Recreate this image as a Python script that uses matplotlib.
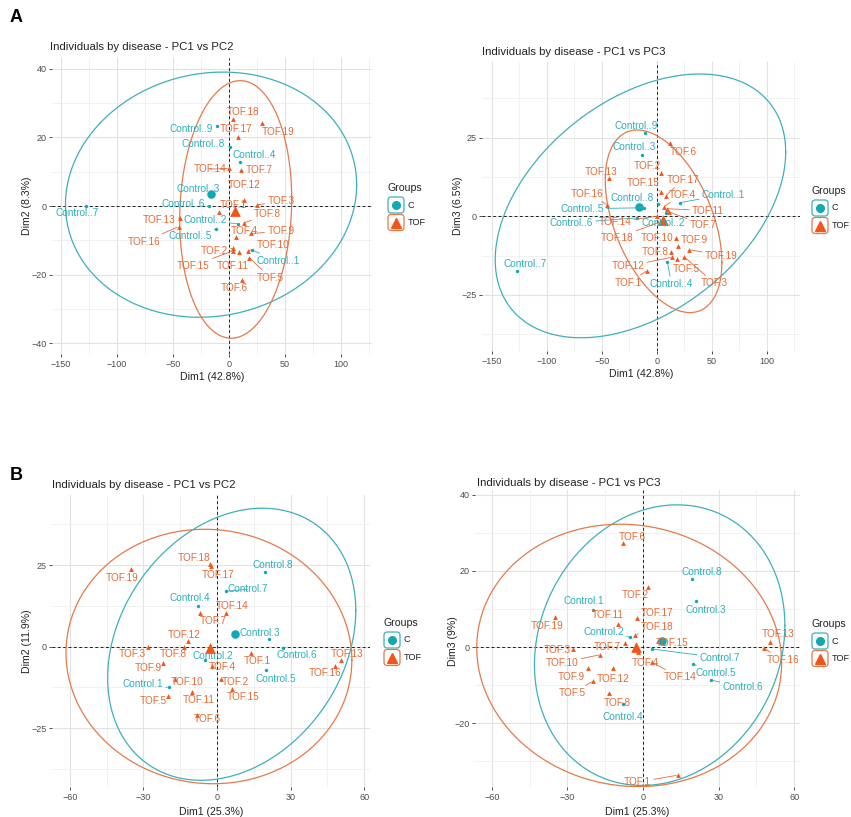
import numpy as np
import matplotlib.pyplot as plt
from matplotlib.patches import FancyBboxPatch
from matplotlib.lines import Line2D
from matplotlib.ticker import MultipleLocator

plt.rcParams['font.family'] = ['Liberation Sans', 'DejaVu Sans']

W, H = 851, 817

# ---------------- data ----------------
names_a = ['Control..1', 'Control..2', 'Control..3', 'Control..4', 'Control..5',
           'Control..6', 'Control..7', 'Control..8', 'Control..9',
           'TOF.1', 'TOF.2', 'TOF.3', 'TOF.4', 'TOF.5', 'TOF.6', 'TOF.7', 'TOF.8',
           'TOF.9', 'TOF.10', 'TOF.11', 'TOF.12', 'TOF.13', 'TOF.14', 'TOF.15',
           'TOF.16', 'TOF.17', 'TOF.18', 'TOF.19']
pc1_a = [20.5, 8, -14, 9.5, -11.5, -18, -127.5, 0.5, -11,
         -9, 4, 25, 6, 18, 12, 11, 13, 19.5, 17, 9, 13.5, -43.5, 0, 4, -45, 8, 4, 29.5]
pc2_a = [-12.8, -5.2, 3.5, 12.8, -6.7, 0, 0, 17.3, 23.3,
         -1.7, -12.3, 0.3, -9, -15, -21.5, 10.5, -5, -8, -13, -13.4, 1.7, -3.5, 11, -13,
         -6, 20, 25.4, 24.2]
pc3_a = [4.3, 1, 19.5, -14.5, 2.7, -0.5, -17.3, 4, 26.5,
         -17.3, 13.8, -13, 3, -13.5, 23.3, 1.4, -11.5, -9.5, -7, 2.4, -13, 12.2, 0, 7.8,
         3.6, 6.5, -1.7, -10.6]

names_b = ['Control.1', 'Control.2', 'Control.3', 'Control.4', 'Control.5',
           'Control.6', 'Control.7', 'Control.8',
           'TOF.1', 'TOF.2', 'TOF.3', 'TOF.4', 'TOF.5', 'TOF.6', 'TOF.7', 'TOF.8',
           'TOF.9', 'TOF.10', 'TOF.11', 'TOF.12', 'TOF.13', 'TOF.14', 'TOF.15',
           'TOF.16', 'TOF.17', 'TOF.18', 'TOF.19']
pc1_b = [-19.7, -5, 21.2, -7.8, 20, 27, 3.6, 19.4,
         13.7, 1.8, -28, -2, -20, -8, -7, -13.5, -22, -17, -10, -12, 50.4, 3.5, 6,
         48, -2.5, -3, -35]
pc2_b = [-12.5, -4, 2.3, 12.4, -7, -0.5, 17, 22.9,
         -2, -10, 0, -6, -15, -21, 10.3, 0, -5, -10, -14, 1.7, -4, 10.3, -13,
         -6, 24.7, 25.3, 23.8]
pc3_b = [9.7, 2.6, 12.1, -15, -4.5, -8.7, -0.5, 17.9,
         -33.7, 15.8, -0.5, -1.3, -9, 27.4, 1, -12, -5.5, -2, 6, -5.5, 1.3, -4, 1.5,
         -0.3, 7.6, 3.2, 7.9]

# ellipses: centre x, centre y, half width, half height, phase of the top point
ell_a12 = {'C': (-16, 3.3, 130, 35.7, 1.49), 'TOF': (6, -1, 50, 37.5, 1.49)}
ell_a13 = {'C': (-15, 3.3, 132, 41.9, 1.15), 'TOF': (6, -1.6, 53, 29, 2.04)}
ell_b12 = {'C': (6, 0.75, 50.6, 41.7, 1.32), 'TOF': (-3.3, -3, 58.3, 39, 1.6)}
ell_b13 = {'C': (6.6, 0.5, 49.7, 36.9, 1.43), 'TOF': (-5.5, -2.2, 60.5, 34.5, 1.63)}

# ---------------- layout: label offsets in pixels ----------------
off_a12 = [(26, -11), (-33, 4), (-15, 5), (15, 7), (-26, -7), (-26, 2), (-9, -7), (-26, 3), (-25, -3),
           (14, 7), (-19, -3), (24, 4), (9, 6), (21, -20), (-8, -8), (18, 0), (24, 9), (30, 2),
           (25, 6), (-6, -14), (0, 15), (-21, -2), (-19, -1), (-40, -15), (-34, -15), (-2, 8),
           (10, 7), (16, -9)]
off_a13 = [(44, 8), (-3, -10), (-7, 8), (4, -22), (-62, -1), (-66, -5), (8, 7), (-25, 6), (-9, 7),
           (-19, -12), (-14, 7), (30, -26), (19, 12), (10, -10), (13, -9), (34, -13), (-16, 0),
           (16, 6), (-19, 0), (41, -2), (-44, -9), (-8, 6), (-42, -6), (-18, 9), (-20, 11),
           (17, 16), (-44, -16), (32, -6)]
off_b12 = [(-26, 3), (8, 4), (-9, 6), (-8, 8), (10, -9), (14, -7), (22, 2), (8, 7),
           (7, -8), (14, -3), (-16, -7), (10, -1), (-15, -5), (10, -4), (13, -8), (-11, -7),
           (-15, -5), (12, -3), (6, -8), (-3, 6), (7, 6), (7, 7), (11, -8), (-10, -7),
           (7, -9), (-16, 6), (-9, -9)]
off_b13 = [(-10, 9), (-27, 5), (9, -9), (-1, -13), (22, -9), (32, -7), (68, -9), (10, 7),
           (-40, -7), (-12, -8), (-15, -1), (7, -11), (-20, -12), (9, 6), (-18, -4), (8, -10),
           (-16, -9), (-38, -8), (-10, 9), (0, -11), (8, 8), (28, -15), (14, -2), (19, -12),
           (20, 5), (22, 8), (-8, -9)]

TEAL = '#12A8B3'
ORANGE = '#F0561A'
TEAL_TXT = '#2BAFBB'
ORANGE_TXT = '#E36B35'
TEAL_ELL = '#3DB0BA'
ORANGE_ELL = '#E47A4A'

fig = plt.figure(figsize=(W / 100, H / 100), dpi=100)


def fx(x):
    return x / W


def fy(y):
    return 1 - y / H


def add_ax(l, t, r, b):
    return fig.add_axes([fx(l), fy(b), (r - l) / W, (b - t) / H])


def draw_panel(ax, names, xs, ys, offs, ell, xlim, ylim, xstep, ystep):
    xs = np.array(xs, dtype=float)
    ys = np.array(ys, dtype=float)
    is_c = np.array([n.startswith('Control') for n in names])
    ax.set_xlim(xlim)
    ax.set_ylim(ylim)
    ax.xaxis.set_major_locator(MultipleLocator(xstep))
    ax.xaxis.set_minor_locator(MultipleLocator(xstep / 2))
    ax.yaxis.set_major_locator(MultipleLocator(ystep))
    ax.yaxis.set_minor_locator(MultipleLocator(ystep / 2))
    ax.grid(which='major', color='#E2E2E2', lw=0.8)
    ax.grid(which='minor', color='#EFEFEF', lw=0.6)
    ax.set_axisbelow(True)
    for s in ax.spines.values():
        s.set_visible(False)
    ax.tick_params(which='major', length=2.5, width=0.6, color='#333333',
                   labelsize=6.5, labelcolor='#4D4D4D', pad=1.5)
    ax.tick_params(which='minor', length=0)
    ax.axhline(0, color='#222222', ls=(0, (3, 2.5)), lw=0.7, zorder=1)
    ax.axvline(0, color='#222222', ls=(0, (3, 2.5)), lw=0.7, zorder=1)

    t = np.linspace(0, 2 * np.pi, 400)
    for g, col in (('C', TEAL_ELL), ('TOF', ORANGE_ELL)):
        cx, cy, hx, hy, ph = ell[g]
        ax.plot(cx + hx * np.cos(t), cy + hy * np.cos(t - ph), color=col, lw=0.9, zorder=2)

    ax.scatter(xs[is_c], ys[is_c], s=6, color=TEAL, marker='o', lw=0, zorder=3)
    ax.scatter(xs[~is_c], ys[~is_c], s=12, color=ORANGE, marker='^', lw=0, zorder=3)
    # group means
    ax.scatter([xs[is_c].mean()], [ys[is_c].mean()], s=38, color=TEAL, marker='o', lw=0, zorder=4)
    ax.scatter([xs[~is_c].mean()], [ys[~is_c].mean()], s=60, color=ORANGE, marker='^', lw=0, zorder=4)

    for n, x, y, (dx, dy), c in zip(names, xs, ys, offs, is_c):
        col = TEAL_TXT if c else ORANGE_TXT
        arrow = None
        if np.hypot(dx, dy) > 19:
            arrow = dict(arrowstyle='-', color=col, lw=0.6, shrinkA=0, shrinkB=1)
        ax.annotate(n, (x, y), xytext=(dx, dy), textcoords='offset pixels',
                    ha='center', va='center', fontsize=7.2, color=col,
                    arrowprops=arrow, zorder=5)


def legend(x, y):
    fig.text(fx(x), fy(y), 'Groups', fontsize=7.6, ha='left', va='center', color='#222222')
    for i, (lab, col, mk, mcol) in enumerate((('C', TEAL_ELL, 'o', TEAL), ('TOF', ORANGE_ELL, '^', ORANGE))):
        top = y + 9 + i * 17.5
        box = FancyBboxPatch((fx(x + 1), fy(top + 16)), 16 / W, 16 / H,
                             boxstyle='round,pad=0,rounding_size=0.004',
                             transform=fig.transFigure, fc='white', ec=col, lw=0.9)
        fig.add_artist(box)
        fig.add_artist(Line2D([fx(x + 9)], [fy(top + 8)], marker=mk, ms=6.5 if mk == '^' else 5.5,
                              color=mcol, lw=0, transform=fig.transFigure))
        fig.text(fx(x + 21), fy(top + 8), lab, fontsize=6.6, ha='left', va='center', color='#222222')


panels = [
    dict(box=(52, 58, 372, 354), names=names_a, x=pc1_a, y=pc2_a, offs=off_a12, ell=ell_a12,
         xlim=(-158, 127.7), ylim=(-43.1, 43.1), xstep=50, ystep=20,
         title='Individuals by disease - PC1 vs PC2', xlab='Dim1 (42.8%)', ylab='Dim2 (8.3%)',
         tpos=(50, 47), xl=(212, 377), yl=(27, 206), leg=(387, 188)),
    dict(box=(482, 62, 800, 351), names=names_a, x=pc1_a, y=pc3_a, offs=off_a13, ell=ell_a13,
         xlim=(-159, 130), ylim=(-42.8, 49), xstep=50, ystep=25,
         title='Individuals by disease - PC1 vs PC3', xlab='Dim1 (42.8%)', ylab='Dim3 (6.5%)',
         tpos=(482, 52), xl=(641, 374), yl=(458, 206), leg=(811, 191)),
    dict(box=(52, 495, 370, 787), names=names_b, x=pc1_b, y=pc2_b, offs=off_b12, ell=ell_b12,
         xlim=(-67.3, 62.4), ylim=(-43, 46.5), xstep=30, ystep=25,
         title='Individuals by disease - PC1 vs PC2', xlab='Dim1 (25.3%)', ylab='Dim2 (11.9%)',
         tpos=(52, 485), xl=(211, 812), yl=(27, 641), leg=(383, 623)),
    dict(box=(475, 490, 800, 787), names=names_b, x=pc1_b, y=pc3_b, offs=off_b13, ell=ell_b13,
         xlim=(-66.7, 62.3), ylim=(-36.8, 41.3), xstep=30, ystep=20,
         title='Individuals by disease - PC1 vs PC3', xlab='Dim1 (25.3%)', ylab='Dim3 (9%)',
         tpos=(477, 483), xl=(637, 812), yl=(453, 641), leg=(811, 624)),
]

for p in panels:
    ax = add_ax(*p['box'])
    draw_panel(ax, p['names'], p['x'], p['y'], p['offs'], p['ell'],
               p['xlim'], p['ylim'], p['xstep'], p['ystep'])
    fig.text(fx(p['tpos'][0]), fy(p['tpos'][1]), p['title'], fontsize=8.2,
             ha='left', va='center', color='#222222')
    fig.text(fx(p['xl'][0]), fy(p['xl'][1]), p['xlab'], fontsize=7.6,
             ha='center', va='center', color='#222222')
    fig.text(fx(p['yl'][0]), fy(p['yl'][1]), p['ylab'], fontsize=7.6, rotation=90,
             ha='center', va='center', color='#222222')
    legend(*p['leg'])

fig.text(fx(10), fy(17), 'A', fontsize=13, fontweight='bold', ha='left', va='center')
fig.text(fx(10), fy(475), 'B', fontsize=13, fontweight='bold', ha='left', va='center')

fig.savefig('out.png', dpi=100, facecolor='white')
